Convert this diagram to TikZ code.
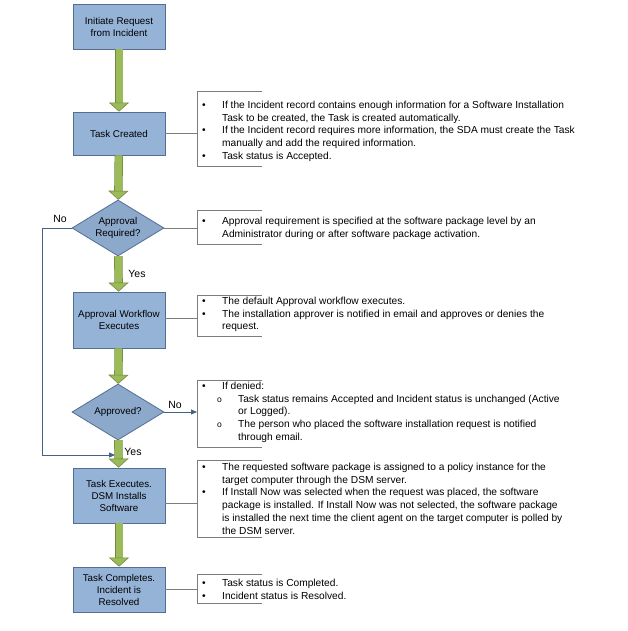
\documentclass[tikz,border=0pt]{standalone}
\usepackage{fontspec}
\setmainfont{Liberation Sans}
\usetikzlibrary{shapes.geometric,arrows.meta}
\definecolor{boxfill}{RGB}{149,179,215}
\definecolor{boxline}{RGB}{84,110,146}
\definecolor{diafill}{RGB}{140,168,203}
\definecolor{grn}{RGB}{155,187,89}
\definecolor{grndark}{RGB}{113,137,63}
\definecolor{loopc}{RGB}{68,98,134}
\definecolor{brk}{RGB}{125,125,125}
\newcommand\cbul{\makebox[20pt][l]{•}}
\newcommand\cind{\hspace*{20pt}}
\newcommand\csub{\hspace*{15pt}\makebox[21pt][l]{\fontsize{8.5}{13}\selectfont o}}
\newcommand\csind{\hspace*{36pt}}
\begin{document}
\begin{tikzpicture}[x=1pt,y=-1pt,
  stepbox/.style={draw=boxline, line width=0.8pt, fill=boxfill, minimum width=92pt,
    inner sep=1pt, align=center, font=\fontsize{9.8}{12}\selectfont},
  decision/.style={diamond, draw=boxline, line width=0.8pt, fill=diafill,
    minimum width=92pt, minimum height=56pt, inner sep=0pt, aspect=1.64,
    align=center, font=\fontsize{9.8}{12}\selectfont},
  flow/.style={draw=grn, line width=7pt,
    -{Triangle[width=20pt,length=9pt,line width=0.6pt,fill=grn,color=grndark]},
    preaction={draw=grndark, -, line width=8.4pt, shorten >=8.5pt}},
  loopline/.style={draw=loopc, line width=0.9pt},
  bracket/.style={draw=brk, line width=1pt},
  conn/.style={draw=brk, line width=0.8pt},
  callout/.style={anchor=base west, inner sep=0pt, font=\fontsize{10.2}{12.7}\selectfont},
  lbl/.style={inner sep=0pt, font=\fontsize{10.5}{12}\selectfont}]
\useasboundingbox (0,0) rectangle (627,631);
\fill[white] (0,0) rectangle (627,631);

% flow nodes
\node[stepbox, minimum height=45pt] (b1) at (119,26.5) {Initiate Request\\from Incident};
\node[stepbox, minimum height=43pt] (b2) at (119,133.5) {Task Created};
\node[decision] (d1) at (118,228) {Approval\\Required?};
\node[stepbox, minimum height=56pt] (b3) at (119,320) {Approval Workflow\\Executes};
\node[decision] (d2) at (118,412) {Approved?};
\node[stepbox, minimum height=55pt] (b4) at (119,495.5) {Task Executes.\\DSM Installs\\Software};
\node[stepbox, minimum height=45pt] (b5) at (119,589.5) {Task Completes.\\Incident is\\Resolved};

% green flow arrows
\draw[flow] (b1) -- (b2);
\draw[flow] (b2) -- (d1);
\draw[flow] (d1) -- (b3);
\draw[flow] (b3) -- (d2);
\draw[flow] (d2) -- (b4);
\draw[flow] (b4) -- (b5);

% No loop
\coordinate (lp1) at (42,228);
\coordinate (lp2) at (42,455);
\coordinate (lp3) at (115,455);
\draw[loopline, -{Triangle[length=6pt,width=5pt]}] (d1.west) -- (lp1) -- (lp2) -- (lp3);

% labels
\node[lbl] (no1) at (60,219) {No};
\node[lbl] (yes1) at (137,274) {Yes};
\node[lbl] (no2) at (175,405) {No};
\node[lbl] (yes2) at (133,452) {Yes};

% brackets
\draw[bracket] (262,92) -- (197,92) -- (197,167) -- (262,167);
\draw[bracket] (262,210) -- (197,210) -- (197,244) -- (262,244);
\draw[bracket] (262,295) -- (197,295) -- (197,336) -- (262,336);
\draw[bracket] (262,380) -- (197,380) -- (197,447) -- (262,447);
\draw[bracket] (262,460) -- (197,460) -- (197,537) -- (262,537);
\draw[bracket] (262,574) -- (197,574) -- (197,603) -- (262,603);

\coordinate (c1) at (197,133.5);
\coordinate (c2) at (197,228);
\coordinate (c3) at (197,318);
\coordinate (c4) at (197,412);
\coordinate (c5) at (197,503);
\coordinate (c6) at (197,589.5);
\draw[conn] (b2.east) -- (c1);
\draw[conn] (d1.east) -- (c2);
\draw[conn] (b3.east |- c3) -- (c3);
\draw[loopline, -{Triangle[length=6pt,width=5pt]}] (d2.east) -- (c4);
\draw[conn] (b4.east |- c5) -- (c5);
\draw[conn] (b5.east) -- (c6);

% callout texts
\node[callout] (t1) at (202,108.5) {\begin{tabular}[t]{@{}l@{}}
\cbul If the Incident record contains enough information for a Software Installation\\
\cind Task to be created, the Task is created automatically.\\
\cbul If the Incident record requires more information, the SDA must create the Task\\
\cind manually and add the required information.\\
\cbul Task status is Accepted.
\end{tabular}};
\node[callout] (t2) at (202,224.5) {\begin{tabular}[t]{@{}l@{}}
\cbul Approval requirement is specified at the software package level by an\\
\cind Administrator during or after software package activation.
\end{tabular}};
\node[callout] (t3) at (202,304.5) {\begin{tabular}[t]{@{}l@{}}
\cbul The default Approval workflow executes.\\
\cbul The installation approver is notified in email and approves or denies the\\
\cind request.
\end{tabular}};
\node[callout] (t4) at (202,389.5) {\begin{tabular}[t]{@{}l@{}}
\cbul If denied:\\
\csub Task status remains Accepted and Incident status is unchanged (Active\\
\csind or Logged).\\
\csub The person who placed the software installation request is notified\\
\csind through email.
\end{tabular}};
\node[callout] (t5) at (202,470.5) {\begin{tabular}[t]{@{}l@{}}
\cbul The requested software package is assigned to a policy instance for the\\
\cind target computer through the DSM server.\\
\cbul If Install Now was selected when the request was placed, the software\\
\cind package is installed. If Install Now was not selected, the software package\\
\cind is installed the next time the client agent on the target computer is polled by\\
\cind the DSM server.
\end{tabular}};
\node[callout] (t6) at (202,586.5) {\begin{tabular}[t]{@{}l@{}}
\cbul Task status is Completed.\\
\cbul Incident status is Resolved.
\end{tabular}};
\end{tikzpicture}
\end{document}
